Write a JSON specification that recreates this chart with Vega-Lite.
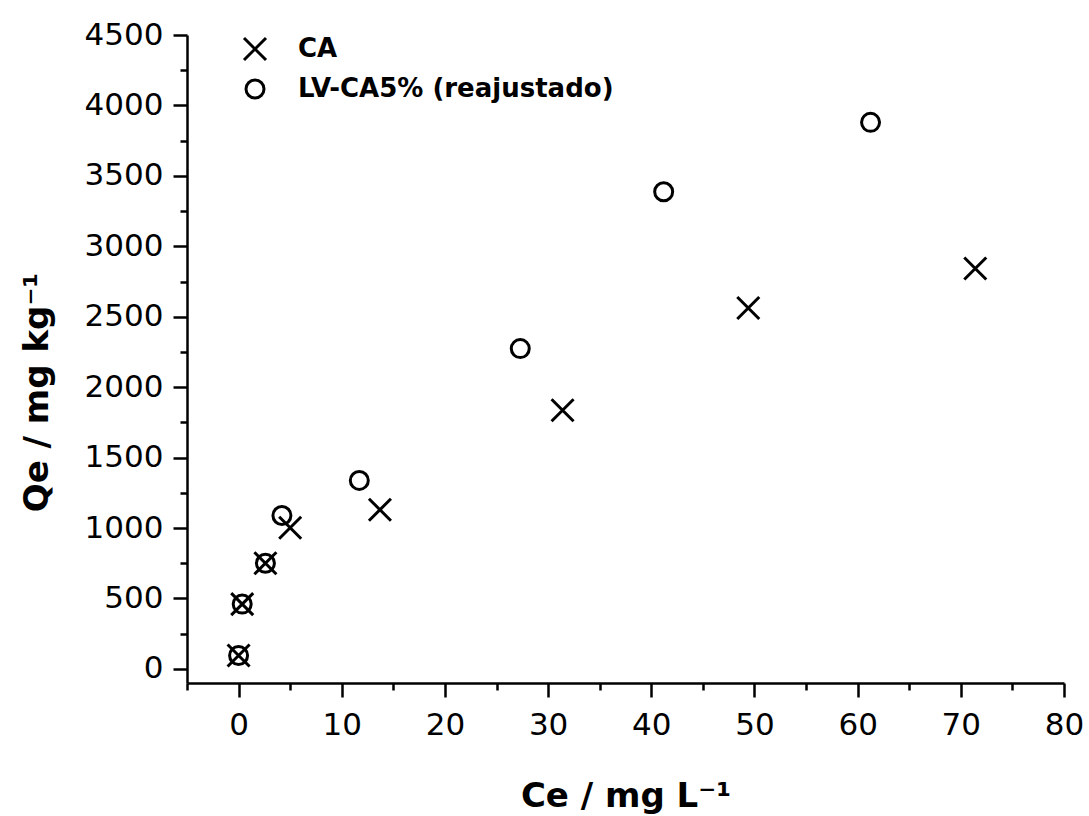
{
  "$schema": "https://vega.github.io/schema/vega-lite/v6.json",
  "width": 877,
  "height": 648,
  "autosize": "none",
  "padding": {"left": 187, "top": 35, "right": 25, "bottom": 133},
  "background": "white",
  "data": {
    "values": [
      {"serie": "CA", "Ce": 0.0, "Qe": 95},
      {"serie": "CA", "Ce": 0.35, "Qe": 460},
      {"serie": "CA", "Ce": 2.6, "Qe": 750},
      {"serie": "CA", "Ce": 5.0, "Qe": 1002},
      {"serie": "CA", "Ce": 13.7, "Qe": 1130},
      {"serie": "CA", "Ce": 31.4, "Qe": 1836},
      {"serie": "CA", "Ce": 49.4, "Qe": 2562},
      {"serie": "CA", "Ce": 71.4, "Qe": 2842},
      {"serie": "LV-CA5% (reajustado)", "Ce": 0.0, "Qe": 95},
      {"serie": "LV-CA5% (reajustado)", "Ce": 0.35, "Qe": 460},
      {"serie": "LV-CA5% (reajustado)", "Ce": 2.6, "Qe": 750},
      {"serie": "LV-CA5% (reajustado)", "Ce": 4.2, "Qe": 1089},
      {"serie": "LV-CA5% (reajustado)", "Ce": 11.7, "Qe": 1338},
      {"serie": "LV-CA5% (reajustado)", "Ce": 27.3, "Qe": 2274},
      {"serie": "LV-CA5% (reajustado)", "Ce": 41.2, "Qe": 3387},
      {"serie": "LV-CA5% (reajustado)", "Ce": 61.25, "Qe": 3880}
    ]
  },
  "mark": {"type": "point", "filled": false, "strokeWidth": 3, "color": "black", "opacity": 1},
  "encoding": {
    "x": {
      "field": "Ce",
      "type": "quantitative",
      "scale": {"domain": [-5, 80], "nice": false, "zero": false},
      "axis": {
        "values": [-5, 0, 5, 10, 15, 20, 25, 30, 35, 40, 45, 50, 55, 60, 65, 70, 75, 80],
        "labelExpr": "datum.value % 10 === 0 ? datum.label : ''",
        "tickSize": {"condition": {"test": "datum.value % 10 !== 0", "value": 7}, "value": 14},
        "tickWidth": 2.5,
        "tickColor": "black",
        "domainWidth": 2.5,
        "domainColor": "black",
        "grid": false,
        "labelFont": "DejaVu Sans",
        "labelFontSize": 31,
        "labelColor": "black",
        "labelPadding": 13,
        "labelFlush": false,
        "labelOverlap": false,
        "title": "Ce / mg L⁻¹",
        "titleFont": "DejaVu Sans",
        "titleFontSize": 34,
        "titleFontWeight": "bold",
        "titleColor": "black",
        "titleBaseline": "alphabetic",
        "titleY": 123
      }
    },
    "y": {
      "field": "Qe",
      "type": "quantitative",
      "scale": {"domain": [-100, 4500], "nice": false, "zero": false},
      "axis": {
        "values": [0, 250, 500, 750, 1000, 1250, 1500, 1750, 2000, 2250, 2500, 2750, 3000, 3250, 3500, 3750, 4000, 4250, 4500],
        "format": "d",
        "labelExpr": "datum.value % 500 === 0 ? datum.label : ''",
        "tickSize": {"condition": {"test": "datum.value % 500 !== 0", "value": 7}, "value": 14},
        "tickWidth": 2.5,
        "tickColor": "black",
        "domainWidth": 2.5,
        "domainColor": "black",
        "grid": false,
        "labelFont": "DejaVu Sans",
        "labelFontSize": 31,
        "labelColor": "black",
        "labelPadding": 10,
        "labelFlush": false,
        "labelOverlap": false,
        "title": "Qe / mg kg⁻¹",
        "titleFont": "DejaVu Sans",
        "titleFontSize": 34,
        "titleFontWeight": "bold",
        "titleColor": "black",
        "titleBaseline": "alphabetic",
        "titleAlign": "center",
        "titleAngle": -90,
        "titleX": -140,
        "titleY": 357
      }
    },
    "shape": {
      "field": "serie",
      "type": "nominal",
      "scale": {"domain": ["CA", "LV-CA5% (reajustado)"], "range": ["M-1,-1L1,1M-1,1L1,-1", "circle"]},
      "legend": {
        "orient": "none",
        "legendX": 55,
        "legendY": 1,
        "title": null,
        "padding": 0,
        "labelFont": "DejaVu Sans",
        "labelFontWeight": "bold",
        "labelFontSize": 26,
        "labelColor": "black",
        "labelLimit": 0,
        "labelOffset": 30,
        "rowPadding": 8,
        "symbolStrokeWidth": 3,
        "symbolStrokeColor": "black",
        "symbolFillColor": "transparent"
      }
    },
    "size": {
      "field": "serie",
      "type": "nominal",
      "scale": {"domain": ["CA", "LV-CA5% (reajustado)"], "range": [484, 324]},
      "legend": {
        "orient": "none",
        "legendX": 55,
        "legendY": 1,
        "title": null,
        "padding": 0,
        "labelFont": "DejaVu Sans",
        "labelFontWeight": "bold",
        "labelFontSize": 26,
        "labelColor": "black",
        "labelLimit": 0,
        "labelOffset": 30,
        "rowPadding": 8,
        "symbolStrokeWidth": 3,
        "symbolStrokeColor": "black",
        "symbolFillColor": "transparent"
      }
    }
  },
  "config": {"view": {"stroke": null}}
}
